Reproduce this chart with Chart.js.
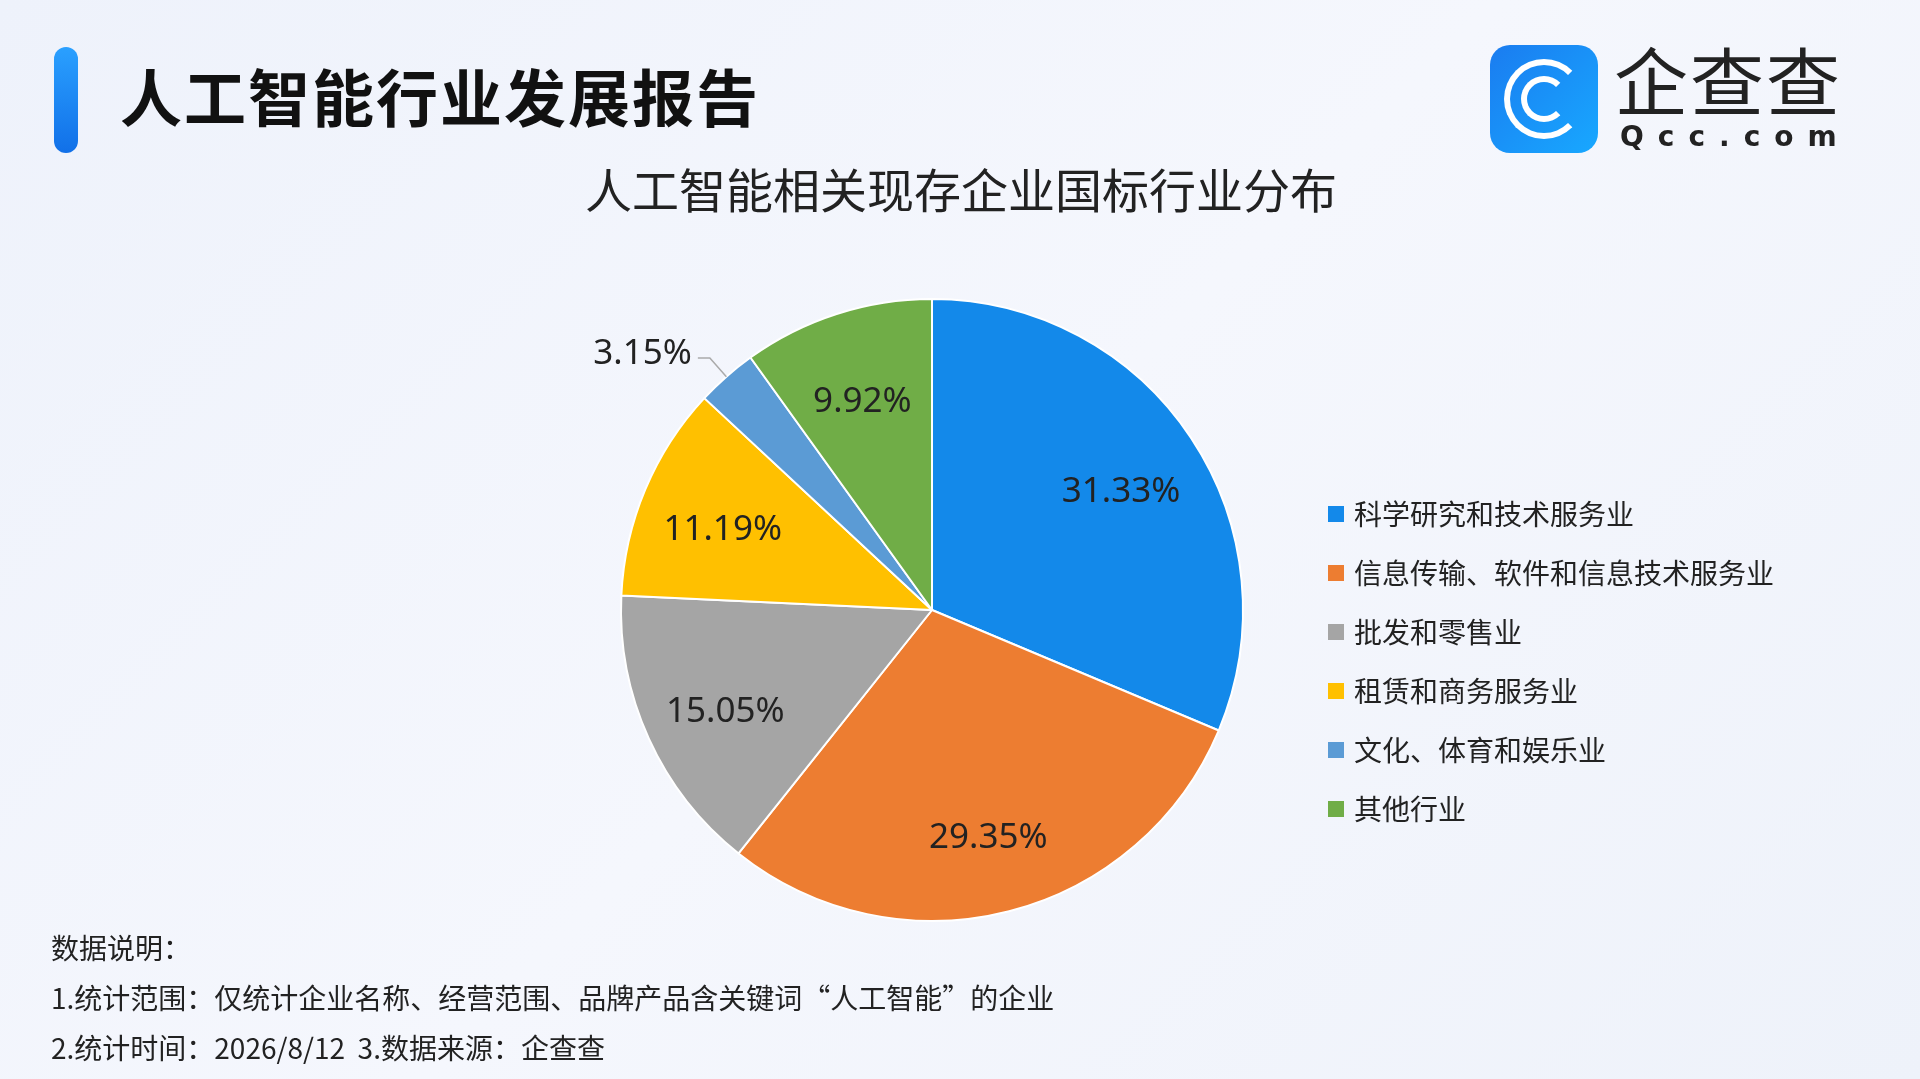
<!DOCTYPE html>
<html><head><meta charset="utf-8">
<script src="https://cdn.jsdelivr.net/npm/chart.js@4/dist/chart.umd.min.js"></script>
<style>
body{margin:0;width:1920px;height:1079px;overflow:hidden;background:linear-gradient(135deg,#eef2fb 0%,#f5f7fd 50%,#eef2fa 100%);font-family:"Noto Sans CJK SC","Noto Sans",sans-serif;position:relative}
#c{position:absolute;left:0;top:0}
.bar{position:absolute;left:54px;top:47px;width:24px;height:106px;border-radius:12px;background:linear-gradient(#2aa0ff,#1170e8)}
.title{position:absolute;left:120px;top:50px;font-size:62px;font-weight:bold;color:#111;letter-spacing:2px}
.logo{position:absolute;left:1490px;top:45px;width:108px;height:108px;border-radius:20px;background:linear-gradient(135deg,#1a7cf0,#18a8ff)}
.ring{position:absolute;border:6px solid #fff;border-radius:50%;border-right-color:transparent}
.brand{position:absolute;left:1614px;top:24px;font-size:74px;color:#222;letter-spacing:2px}
.brand2{position:absolute;left:1620px;top:120px;font-size:28px;color:#222;letter-spacing:14px;font-family:"DejaVu Sans";font-weight:bold}
.notes{position:absolute;left:51px;top:922px;font-size:28px;color:#222;line-height:50px}
</style></head><body>
<canvas id="c" width="1920" height="1079"></canvas>
<div class="bar"></div>
<div class="title">人工智能行业发展报告</div>
<div class="logo"><div class="ring" style="left:14px;top:14px;width:68px;height:68px"></div><div class="ring" style="left:31px;top:31px;width:34px;height:34px"></div></div>
<div class="brand">企查查</div>
<div class="brand2">Qcc.com</div>
<div class="notes">数据说明：<br>1.统计范围：仅统计企业名称、经营范围、品牌产品含关键词“人工智能”的企业<br>2.统计时间：2026/8/12&nbsp;&nbsp;3.数据来源：企查查</div>
<script>
const categories = ['科学研究和技术服务业', '信息传输、软件和信息技术服务业', '批发和零售业', '租赁和商务服务业', '文化、体育和娱乐业', '其他行业'];
const shares = [31.33, 29.35, 15.05, 11.19, 3.15, 9.92];
const colors = ['#1389ea', '#ed7d31', '#a5a5a5', '#ffc000', '#5b9bd5', '#70ad47'];
const chartTitle = '人工智能相关现存企业国标行业分布';

const overlay = {
  id: 'overlay',
  afterDraw(chart) {
    const ctx = chart.ctx;
    const arcs = chart.getDatasetMeta(0).data;
    ctx.save();
    ctx.fillStyle = '#222';
    ctx.font = '47px "Noto Sans CJK SC"';
    ctx.textAlign = 'center';
    ctx.textBaseline = 'middle';
    ctx.fillText(chartTitle, 961, 190);
    ctx.font = '35px "Noto Sans","Noto Sans CJK SC"';
    arcs.forEach((a, i) => {
      const mid = (a.startAngle + a.endAngle) / 2;
      const R = a.outerRadius;
      const txt = shares[i].toFixed(2) + '%';
      if (shares[i] < 5) {
        const x1 = a.x + Math.cos(mid) * R, y1 = a.y + Math.sin(mid) * R;
        const x2 = a.x + Math.cos(mid) * (R + 25), y2 = a.y + Math.sin(mid) * (R + 25);
        ctx.strokeStyle = '#aaa'; ctx.lineWidth = 1.5;
        ctx.beginPath(); ctx.moveTo(x1, y1); ctx.lineTo(x2, y2); ctx.lineTo(x2 - 12, y2); ctx.stroke();
        ctx.textAlign = 'right';
        ctx.fillText(txt, x2 - 18, y2 - 4);
        ctx.textAlign = 'center';
      } else {
        const r = R * 0.73;
        ctx.fillText(txt, a.x + Math.cos(mid) * r, a.y + Math.sin(mid) * r + 8);
      }
    });
    ctx.font = '28px "Noto Sans CJK SC"';
    ctx.textAlign = 'left';
    categories.forEach((c, i) => {
      const y = 514 + i * 59;
      ctx.fillStyle = colors[i];
      ctx.fillRect(1328, y - 8, 16, 16);
      ctx.fillStyle = '#222';
      ctx.fillText(c, 1354, y);
    });
    ctx.restore();
  }
};

new Chart(document.getElementById('c'), {
  type: 'pie',
  data: {
    labels: categories,
    datasets: [{ data: shares, backgroundColor: colors, borderColor: '#fff', borderWidth: 2 }]
  },
  options: {
    responsive: false,
    animation: false,
    layout: { padding: { left: 620, right: 676, top: 298, bottom: 157 } },
    plugins: { legend: { display: false }, tooltip: { enabled: false } }
  },
  plugins: [overlay]
});
</script>
</body></html>
